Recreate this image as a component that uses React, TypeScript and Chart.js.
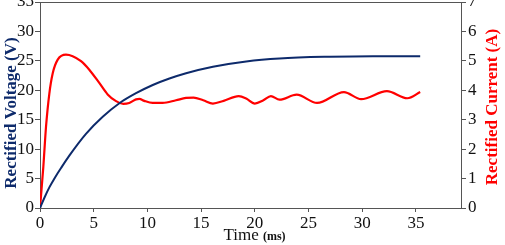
import React, { useEffect, useRef } from "react";
import { Chart, registerables } from "chart.js";

Chart.register(...registerables);

const timeV = [0, 0.4, 0.87, 1.4, 1.96, 2.73, 4.28, 5.84, 7.39, 8.94, 10.5, 12.05, 13.6, 16.1, 19.2, 22.3, 27.0, 31.0, 35.4];
const voltage = [0, 1.7, 3.5, 5.2, 6.8, 8.9, 12.6, 15.5, 17.8, 19.5, 20.9, 22.0, 22.9, 24.0, 24.9, 25.4, 25.7, 25.8, 25.8];

const timeI = [0, 0.31, 0.56, 0.87, 1.18, 1.65, 2.42, 3.04, 3.82, 4.59, 5.52, 6.3, 7.08, 7.76, 8.31, 8.94, 9.25, 9.71, 10.49, 11.42, 12.66, 13.6, 14.3, 15.2, 16.1, 17.1, 18.5, 19.2, 20.0, 20.8, 21.5, 22.3, 23.9, 25.8, 28.3, 29.9, 32.3, 34.2, 35.4];
const current = [0, 1.4, 2.76, 3.89, 4.57, 5.04, 5.21, 5.16, 4.99, 4.7, 4.25, 3.86, 3.63, 3.54, 3.57, 3.69, 3.71, 3.64, 3.57, 3.57, 3.66, 3.74, 3.75, 3.66, 3.55, 3.64, 3.8, 3.72, 3.55, 3.66, 3.8, 3.68, 3.85, 3.57, 3.94, 3.7, 3.97, 3.73, 3.94];

const xTicks = [0, 5, 10, 15, 20, 25, 30, 35];
const voltTicks = [0, 5, 10, 15, 20, 25, 30, 35];
const currTicks = [0, 1, 2, 3, 4, 5, 6, 7];

const BLUE = "#0d2a6b";
const RED = "#ff0000";
const AXIS = "#555555";
const FONT = "'Liberation Serif', 'Times New Roman', serif";

export default function App() {
  const ref = useRef<HTMLCanvasElement | null>(null);

  useEffect(() => {
    document.body.style.margin = "0";
    const canvas = ref.current;
    if (!canvas) return;

    const framePlugin = {
      id: "frame",
      afterDraw(chart: any) {
        const { ctx, chartArea } = chart;
        ctx.save();
        ctx.strokeStyle = AXIS;
        ctx.lineWidth = 1;
        ctx.beginPath();
        ctx.moveTo(chartArea.left, chartArea.top + 0.5);
        ctx.lineTo(chartArea.right, chartArea.top + 0.5);
        ctx.stroke();

        // x axis title with mixed styles
        const cx = (chartArea.left + chartArea.right) / 2 + 4;
        const y = 240;
        ctx.fillStyle = "#111";
        ctx.textBaseline = "alphabetic";
        ctx.textAlign = "left";
        ctx.font = `17px ${FONT}`;
        const w1 = ctx.measureText("Time ").width;
        ctx.font = `bold 12px ${FONT}`;
        const w2 = ctx.measureText("(ms)").width;
        const start = cx - (w1 + w2) / 2;
        ctx.font = `17px ${FONT}`;
        ctx.fillText("Time ", start, y);
        ctx.font = `bold 12px ${FONT}`;
        ctx.fillText("(ms)", start + w1, y);

        // y axis titles
        ctx.font = `bold 17px ${FONT}`;
        ctx.textAlign = "center";
        ctx.textBaseline = "middle";
        ctx.save();
        ctx.translate(12, 113);
        ctx.rotate(-Math.PI / 2);
        ctx.fillStyle = BLUE;
        ctx.fillText("Rectified Voltage (V)", 0, 0);
        ctx.restore();
        ctx.save();
        ctx.translate(493, 107);
        ctx.rotate(-Math.PI / 2);
        ctx.fillStyle = RED;
        ctx.fillText("Rectified Current (A)", 0, 0);
        ctx.restore();
        ctx.restore();
      },
    };

    const chart = new Chart(canvas, {
      type: "line",
      data: {
        datasets: [
          {
            label: "Rectified Voltage",
            data: timeV.map((t, i) => ({ x: t, y: voltage[i] })),
            borderColor: BLUE,
            borderWidth: 2,
            pointRadius: 0,
            cubicInterpolationMode: "monotone",
            yAxisID: "yV",
          },
          {
            label: "Rectified Current",
            data: timeI.map((t, i) => ({ x: t, y: current[i] })),
            borderColor: RED,
            borderWidth: 2.2,
            pointRadius: 0,
            cubicInterpolationMode: "monotone",
            yAxisID: "yI",
          },
        ],
      },
      options: {
        responsive: false,
        animation: false,
        layout: { padding: { top: 2, left: 0, right: 0, bottom: 0 } },
        plugins: { legend: { display: false }, tooltip: { enabled: false } },
        scales: {
          x: {
            type: "linear",
            min: 0,
            max: 39.2,
            afterBuildTicks: (s: any) => {
              s.ticks = xTicks.map((v) => ({ value: v }));
            },
            afterFit: (s: any) => {
              s.height = 37;
              s.paddingLeft = 0;
              s.paddingRight = 0;
            },
            ticks: {
              color: "#111",
              font: { family: FONT, size: 17 },
              padding: 1,
              maxRotation: 0,
              autoSkip: false,
            },
            grid: { drawOnChartArea: false, drawTicks: true, tickLength: 4, color: AXIS },
            border: { display: true, color: AXIS, width: 1 },
          },
          yV: {
            type: "linear",
            position: "left",
            min: 0,
            max: 35,
            afterBuildTicks: (s: any) => {
              s.ticks = voltTicks.map((v) => ({ value: v }));
            },
            afterFit: (s: any) => {
              s.width = 40;
              s.paddingTop = 0;
              s.paddingBottom = 0;
            },
            ticks: {
              color: "#111",
              font: { family: FONT, size: 17 },
              padding: 1,
              autoSkip: false,
            },
            grid: { drawOnChartArea: false, drawTicks: true, tickLength: 5, color: AXIS },
            border: { display: true, color: AXIS, width: 1 },
          },
          yI: {
            type: "linear",
            position: "right",
            min: 0,
            max: 7,
            afterBuildTicks: (s: any) => {
              s.ticks = currTicks.map((v) => ({ value: v }));
            },
            afterFit: (s: any) => {
              s.width = 44;
              s.paddingTop = 0;
              s.paddingBottom = 0;
            },
            ticks: {
              color: "#111",
              font: { family: FONT, size: 17 },
              padding: 2,
              autoSkip: false,
            },
            grid: { drawOnChartArea: false, drawTicks: true, tickLength: 5, color: AXIS },
            border: { display: true, color: AXIS, width: 1 },
          },
        },
      },
      plugins: [framePlugin],
    } as any);

    return () => chart.destroy();
  }, []);

  return (
    <div style={{ width: 505, height: 245, overflow: "hidden" }}>
      <canvas ref={ref} width={505} height={245} style={{ display: "block" }} />
    </div>
  );
}
